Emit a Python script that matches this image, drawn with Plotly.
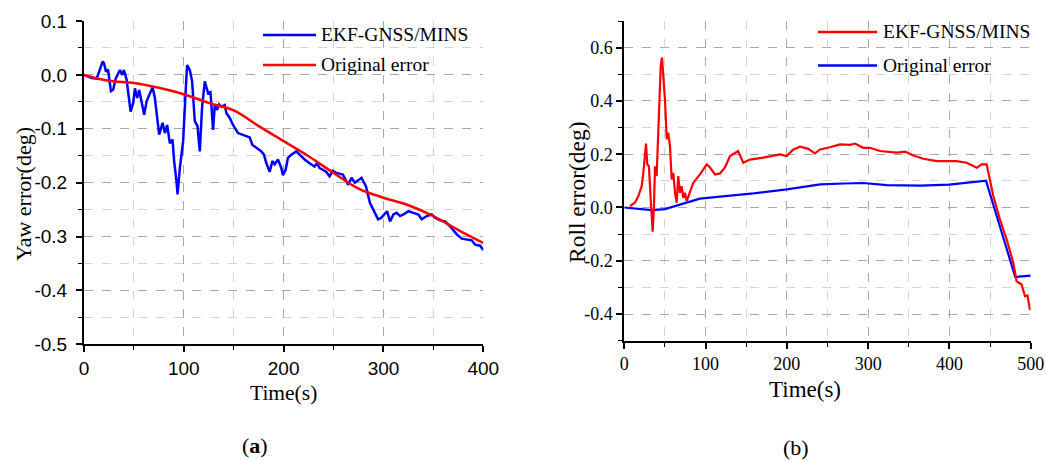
import plotly.graph_objects as go

# ---------------- data: (a) Yaw error ----------------
yaw_t_ekf = [0, 7.7, 12.7, 14, 18.7, 20, 22, 24, 27, 29.3, 31.7, 36, 38.3, 40, 42.7, 46.7, 49.3, 51,
             53.3, 55.3, 57.7, 60.3, 62.7, 66, 68.7, 71, 75.3, 78.7, 81, 83.3, 86, 88.7, 90.3, 92.7,
             93.7, 96, 99.3, 102, 103.3, 106, 108.3, 111, 113.7, 116, 118.3, 121, 124.3, 126.7, 129.3,
             131, 133.3, 135.3, 137.7, 141, 142.7, 146, 149.3, 154.3, 162.7, 166, 168.7, 173.3, 177.7,
             180.3, 182.7, 186, 188.7, 191, 194.3, 197.7, 199.3, 202, 204.3, 207.7, 211, 212.7, 216,
             221, 226, 231, 233.3, 236, 239.3, 242.7, 246, 249.3, 252.7, 259.3, 264.7, 268, 271.3,
             274.7, 278, 279.7, 282.5, 284.8, 286.5, 289.8, 294.6, 297.9, 301.6, 303.6, 306.6, 309.9,
             313.3, 316.6, 320, 325, 330, 335, 338.3, 343.3, 348.3, 351.6, 356.7, 361.7, 366.7, 373.4,
             378.4, 383.4, 388.4, 391.8, 396.8, 400]
yaw_ekf = [0, -0.006, -0.007, 0, 0.025, 0.022, 0.006, 0.010, -0.030, -0.027, -0.007, 0.009, 0, 0.009,
           -0.009, -0.068, -0.052, -0.025, -0.043, -0.028, -0.049, -0.074, -0.049, -0.034, -0.023,
           -0.043, -0.111, -0.089, -0.108, -0.093, -0.127, -0.120, -0.160, -0.198, -0.222, -0.173,
           -0.123, -0.025, 0.018, 0.009, -0.012, -0.086, -0.095, -0.142, -0.060, -0.012, -0.034,
           -0.032, -0.102, -0.056, -0.065, -0.055, -0.059, -0.056, -0.071, -0.080, -0.093, -0.108,
           -0.114, -0.116, -0.130, -0.136, -0.142, -0.148, -0.164, -0.180, -0.160, -0.166, -0.157,
           -0.173, -0.186, -0.176, -0.154, -0.148, -0.145, -0.142, -0.148, -0.157, -0.164, -0.170,
           -0.164, -0.173, -0.176, -0.180, -0.188, -0.178, -0.182, -0.185, -0.204, -0.191, -0.200,
           -0.195, -0.191, -0.197, -0.207, -0.225, -0.238, -0.250, -0.268, -0.265, -0.256, -0.253,
           -0.272, -0.259, -0.256, -0.262, -0.259, -0.253, -0.256, -0.259, -0.268, -0.262, -0.259,
           -0.265, -0.270, -0.272, -0.281, -0.296, -0.304, -0.306, -0.307, -0.315, -0.317, -0.325]

yaw_t_orig = [0, 25, 50, 75, 100, 125, 150, 175, 200, 225, 250, 275, 300, 325, 350, 375, 400]
yaw_orig = [0, -0.011, -0.015, -0.024, -0.036, -0.052, -0.066, -0.095, -0.123, -0.151, -0.182,
            -0.211, -0.228, -0.242, -0.262, -0.288, -0.312]

yaw_x_ticks = [0, 100, 200, 300, 400]
yaw_y_ticks = [0.1, 0.0, -0.1, -0.2, -0.3, -0.4, -0.5]
yaw_y_labels = ["0.1", "0.0", "-0.1", "-0.2", "-0.3", "-0.4", "-0.5"]

# ---------------- data: (b) Roll error ----------------
roll_t_ekf = [7, 13, 17.3, 21.4, 23.4, 25.5, 26.7, 28.3, 30.3, 32.5, 34.9, 36.5, 37.8, 39.8, 41, 43,
              44.8, 46.4, 48, 50, 52.2, 54, 56.2, 58.3, 60.3, 62.4, 64.4, 66.4, 68.5, 70.5, 72.6, 74.6,
              76.8, 80.9, 84.9, 93.1, 101.4, 105.5, 111.6, 117.7, 123.9, 130, 136.2, 140, 146.4, 154.6,
              171, 191.6, 199.8, 208, 216.2, 226.4, 234.6, 240.8, 253, 265.4, 277.7, 283.8, 294, 302.2,
              314.6, 335, 345.4, 355.6, 367.9, 384.3, 408.9, 421.2, 433.6, 439.7, 445.8, 454, 462.2,
              470.5, 478.6, 482.7, 488.8, 493, 496, 499, 500]
roll_ekf = [0.005, 0.018, 0.043, 0.080, 0.130, 0.193, 0.240, 0.162, 0.155, 0.030, -0.091, 0.005,
            0.155, 0.118, 0.218, 0.381, 0.531, 0.563, 0.506, 0.406, 0.256, 0.281, 0.230, 0.105, 0.130,
            0.055, 0.018, 0.118, 0.055, 0.080, 0.036, 0.055, 0.024, 0.061, 0.093, 0.124, 0.162, 0.150,
            0.124, 0.128, 0.150, 0.193, 0.206, 0.212, 0.168, 0.180, 0.187, 0.199, 0.193, 0.218, 0.228,
            0.220, 0.203, 0.218, 0.226, 0.237, 0.235, 0.240, 0.224, 0.224, 0.212, 0.206, 0.210, 0.195,
            0.183, 0.174, 0.174, 0.168, 0.149, 0.162, 0.162, 0.043, -0.045, -0.120, -0.208, -0.277,
            -0.289, -0.333, -0.330, -0.383, -0.380]

roll_t_orig = [0, 15, 34, 50, 77, 93, 118, 159, 200, 220, 241, 270, 294, 323, 364, 400, 445, 481, 500]
roll_orig = [0, -0.005, -0.010, -0.006, 0.018, 0.033, 0.041, 0.053, 0.068, 0.078, 0.087, 0.090,
             0.092, 0.084, 0.082, 0.086, 0.101, -0.261, -0.256]

roll_x_ticks = [0, 100, 200, 300, 400, 500]
roll_y_ticks = [0.6, 0.4, 0.2, 0.0, -0.2, -0.4]
roll_y_labels = ["0.6", "0.4", "0.2", "0.0", "-0.2", "-0.4"]

# ---------------- figure ----------------
W, H = 1046, 461
BLUE, RED = "#0000FF", "#FF0000"
SERIF = "Liberation Serif, Times New Roman, serif"
SANS = "Liberation Sans, Arial, sans-serif"


def px(x):
    return x / W


def py(y):
    return 1 - y / H


fig = go.Figure()
fig.add_trace(go.Scatter(x=yaw_t_ekf, y=yaw_ekf, mode="lines", name="EKF-GNSS/MINS",
                         line=dict(color=BLUE, width=2.5), xaxis="x", yaxis="y", showlegend=False))
fig.add_trace(go.Scatter(x=yaw_t_orig, y=yaw_orig, mode="lines", name="Original error",
                         line=dict(color=RED, width=2.5, shape="spline"), xaxis="x", yaxis="y",
                         showlegend=False))
fig.add_trace(go.Scatter(x=roll_t_orig, y=roll_orig, mode="lines", name="Original error",
                         line=dict(color=BLUE, width=2.2), xaxis="x2", yaxis="y2", showlegend=False))
fig.add_trace(go.Scatter(x=roll_t_ekf, y=roll_ekf, mode="lines", name="EKF-GNSS/MINS",
                         line=dict(color=RED, width=2.2), xaxis="x2", yaxis="y2", showlegend=False))


def axis_common(family, size, minor_dtick):
    return dict(showline=True, linecolor="black", linewidth=2, mirror=False, ticks="outside",
                ticklen=6, tickwidth=1.5, tickcolor="black", zeroline=False, automargin=False,
                tickfont=dict(family=family, size=size, color="black"),
                showgrid=True, gridcolor="#a8a8a8", griddash="dash", gridwidth=1,
                minor=dict(dtick=minor_dtick, ticks="outside", ticklen=4, tickwidth=1.2,
                           tickcolor="black", showgrid=True, gridcolor="#d4d4d4", griddash="dash"))


fig.update_layout(
    width=W, height=H, margin=dict(l=0, r=0, t=0, b=0, autoexpand=False),
    paper_bgcolor="white", plot_bgcolor="white",
    xaxis=dict(domain=[px(84), px(483.3)], range=[0, 400], tickmode="array",
               tickvals=yaw_x_ticks, anchor="y", **axis_common(SANS, 19, 50)),
    yaxis=dict(domain=[py(344.3), py(21)], range=[-0.5, 0.1], tickmode="array",
               tickvals=yaw_y_ticks, ticktext=yaw_y_labels, anchor="x", ticklabelstandoff=5,
               **axis_common(SANS, 19, 0.05)),
    xaxis2=dict(domain=[px(624.3), px(1030.7)], range=[0, 500], tickmode="array",
                tickvals=roll_x_ticks, anchor="y2", **axis_common(SERIF, 18, 50)),
    yaxis2=dict(domain=[py(340.7), py(21)], range=[-0.5, 0.7], tickmode="array",
                tickvals=roll_y_ticks, ticktext=roll_y_labels, anchor="x2",
                **axis_common(SERIF, 18, 0.1)),
)

shapes = []
annotations = []


def legend_item(x0, x1, y, color, text, tx):
    shapes.append(dict(type="line", xref="paper", yref="paper", x0=px(x0), x1=px(x1),
                       y0=py(y), y1=py(y), line=dict(color=color, width=2.5)))
    annotations.append(dict(text=text, xref="paper", yref="paper", x=px(tx), y=py(y),
                            xanchor="left", yanchor="middle", showarrow=False,
                            font=dict(family=SERIF, size=19.5, color="black")))


legend_item(263, 316, 35, BLUE, "EKF-GNSS/MINS", 319)
legend_item(263, 316, 65, RED, "Original error", 319)
legend_item(818, 877, 32, RED, "EKF-GNSS/MINS", 881)
legend_item(818, 877, 65.5, BLUE, "Original error", 881)


def text(t, x, y, size, angle=0):
    annotations.append(dict(text=t, xref="paper", yref="paper", x=px(x), y=py(y),
                            xanchor="center", yanchor="middle", showarrow=False, textangle=angle,
                            font=dict(family=SERIF, size=size, color="black")))


text("Time(s)", 283, 392.5, 21.5)
text("Yaw error(deg)", 23, 194, 22, -90)
text("Time(s)", 805, 389, 23)
text("Roll error(deg)", 577, 192, 23.5, -90)
text("(<b>a</b>)", 255, 445, 22)
text("(b)", 796, 447, 22)

fig.update_layout(shapes=shapes, annotations=annotations)
fig.write_html("out.html")
